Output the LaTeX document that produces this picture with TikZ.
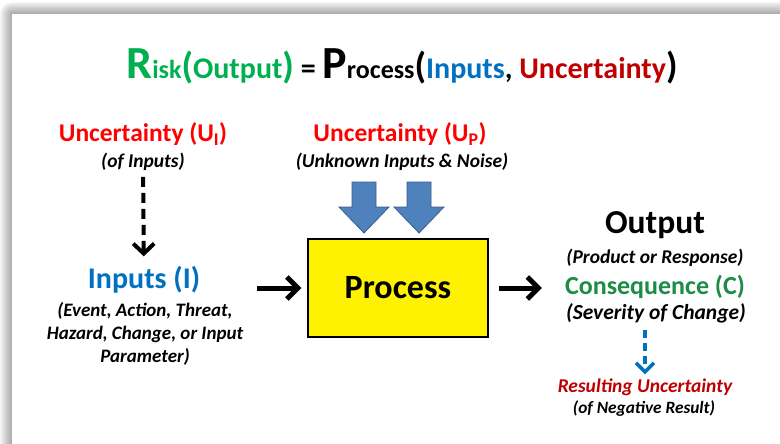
\documentclass[tikz,border=0pt]{standalone}
\usepackage{fontspec}
\setmainfont{Carlito}
\usetikzlibrary{arrows.meta}

\definecolor{riskgreen}{RGB}{0,176,80}
\definecolor{inblue}{RGB}{0,112,192}
\definecolor{darkred}{RGB}{192,0,0}
\definecolor{brightred}{RGB}{255,0,0}
\definecolor{consgreen}{RGB}{30,140,70}
\definecolor{arrowblue}{RGB}{79,129,189}
\definecolor{arrowedge}{RGB}{56,93,138}

\newcommand{\fsz}[2]{\fontsize{#1}{#2}\selectfont}

\tikzset{
  heading/.style={font=\bfseries\fsz{25.5}{30}, inner sep=0pt},
  note/.style={font=\bfseries\itshape\fsz{19.5}{23}, inner sep=0pt, align=center},
  bigarrow/.style={line width=5pt, -{Straight Barb[length=11pt,width=22pt]}},
  dasharrow/.style={line width=4pt, dash pattern=on 10pt off 6pt, -{Straight Barb[length=10pt,width=21pt]}},
  bluedash/.style={draw=inblue, line width=3.5pt, dash pattern=on 8pt off 5pt, -{Straight Barb[length=9pt,width=18pt]}},
  blockdown/.pic={
    \filldraw[fill=arrowblue, draw=arrowedge, line width=.8pt]
      (-12,0) -- (12,0) -- (12,25) -- (25,25) -- (0,51) -- (-25,25) -- (-12,25) -- cycle;
  }
}

\begin{document}
\begin{tikzpicture}[x=1pt,y=-1pt]

  \useasboundingbox (0,0) rectangle (780,444);
  % card with soft shadow
  \foreach \k in {1,...,12}
    \fill[black, opacity=0.03, rounded corners=\k pt] (12-\k,14-\k) rectangle (800,470);
  \fill[white] (12,14) rectangle (800,470);

  % title
  \node[inner sep=0pt, anchor=base, font=\bfseries] (title) at (402,79)
    {\color{riskgreen}\fsz{46}{46}R\fsz{26}{26}isk\fsz{37}{37}(\fsz{30}{30}Output\fsz{37}{37})\color{black}\fsz{30}{30} = \fsz{46}{46}P\fsz{26}{26}rocess\fsz{37}{37}(\color{inblue}\fsz{30}{30}Inputs\color{black}, \color{darkred}Uncertainty\color{black}\fsz{37}{37})};

  % inputs side
  \node[heading, text=brightred] (unci) at (143,134) {Uncertainty (U\textsubscript{I})};
  \node[note] (uncisub) at (143,162) {(of Inputs)};
  \node[heading, font=\bfseries\fsz{30}{34}, text=inblue] (inp) at (144,280) {Inputs (I)};
  \node[note, font=\bfseries\itshape\fsz{19}{23}] (inpdesc) at (145,334) {(Event, Action, Threat,\\Hazard, Change, or Input\\Parameter)};
  \draw[dasharrow, shorten <=6pt, shorten >=10pt] (uncisub) -- (inp);

  % process
  \node[heading, text=brightred] (uncp) at (400,134) {Uncertainty (U\textsubscript{P})};
  \node[note] (uncpsub) at (402,162) {(Unknown Inputs \& Noise)};
  \pic at (364,182) {blockdown};
  \pic at (419,182) {blockdown};
  \node[draw, fill=yellow, line width=1.2pt, minimum width=180pt, minimum height=98pt,
        font=\bfseries\fsz{34}{40}] (proc) at (398,288) {Process};
  \draw[bigarrow, shorten <=14pt, shorten >=6pt] (inpdesc.east |- proc.west) -- (proc.west);

  % output side
  \node[heading, font=\bfseries\fsz{33.5}{38}] (out) at (655,225) {Output};
  \node[note] (outsub) at (655,258) {(Product or Response)};
  \node[heading, font=\bfseries\fsz{26}{30}, text=consgreen] (cons) at (655,287) {Consequence (C)};
  \node[note, font=\bfseries\itshape\fsz{21.5}{25}] (conssub) at (656,313) {(Severity of Change)};
  \node[note, font=\bfseries\itshape\fsz{19.5}{23}, text=darkred] (res) at (645,387) {Resulting Uncertainty};
  \node[note, font=\bfseries\itshape\fsz{17.3}{20}] (ressub) at (644,409) {(of Negative Result)};
  \draw[bigarrow, shorten <=10pt, shorten >=23pt] (proc.east) -- (cons.west |- proc.east);
  \draw[bluedash, shorten <=7pt, shorten >=4pt] (res.north |- conssub.south) -- (res.north);

\end{tikzpicture}
\end{document}
